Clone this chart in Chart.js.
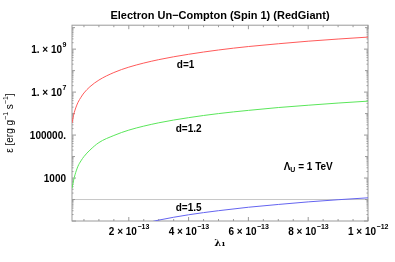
<!DOCTYPE html>
<html>
<head>
<meta charset="utf-8">
<script src="https://cdn.jsdelivr.net/npm/chart.js@4"></script>
<style>
  html, body { margin: 0; padding: 0; background: #fff; }
  #wrap { width: 395px; height: 262px; }
</style>
</head>
<body>
<div id="wrap"><canvas id="c" width="395" height="262"></canvas></div>
<script>
// ---- data (lambda_1 values, epsilon-dot values) ----
const lambdaRG = [1e-14, 1.5e-14, 2e-14, 3e-14, 4e-14, 5e-14, 7e-14, 1e-13, 1.5e-13, 2e-13, 3e-13, 4e-13, 5e-13, 6e-13, 7e-13, 8e-13, 9e-13, 1e-12];
const epsD1   = [3.63e5, 8.1e5, 1.45e6, 3.31e6, 5.75e6, 9.12e6, 1.78e7, 3.63e7, 8.13e7, 1.45e8, 3.24e8, 5.75e8, 9.12e8, 1.32e9, 1.78e9, 2.34e9, 2.95e9, 3.63e9];
const epsD12  = [331, 741, 1410, 3550, 6310, 1.0e4, 2.0e4, 4.47e4, 9.55e4, 1.7e5, 3.72e5, 6.46e5, 1.0e6, 1.41e6, 1.91e6, 2.45e6, 3.09e6, 3.8e6];
const lambdaB = [2.5e-13, 3e-13, 4e-13, 5e-13, 6e-13, 7e-13, 8e-13, 9e-13, 1e-12];
const epsD15  = [7.6, 11, 19.5, 30.2, 43.7, 58.9, 77.6, 97.7, 120];

const xTicks = [2e-13, 4e-13, 6e-13, 8e-13, 1e-12];
const xTickBase = ['2 × 10', '4 × 10', '6 × 10', '8 × 10', '1 × 10'];
const xTickExp  = ['−13', '−13', '−13', '−13', '−12'];
const yTicks = [1e3, 1e5, 1e7, 1e9];
const yTickBase = ['1000', '100000.', '1. × 10', '1. × 10'];
const yTickExp  = ['', '', '7', '9'];
const xMin = 1e-14, xMax = 1e-12;
const yMin = 10, yMax = 1.3e10;
const axisLineValue = 100;

const seriesLabels = ['d=1', 'd=1.2', 'd=1.5'];
const annotations = [
  { text: 'd=1',   x: 3.9e-13, y: 1.8e8 },
  { text: 'd=1.2', x: 4.0e-13, y: 1.9e5 },
  { text: 'd=1.5', x: 4.0e-13, y: 40 },
  { text: 'Λ', sub: 'U', rest: ' = 1 TeV', x: 8.0e-13, y: 3200 }
];

const toPts = (xs, ys) => xs.map((x, i) => ({ x: x, y: ys[i] }));
const FONT = '"Liberation Sans", Arial, sans-serif';

function drawSupLabel(ctx, base, exp, x, y, align) {
  ctx.font = 'bold 10px ' + FONT;
  const wb = ctx.measureText(base).width;
  ctx.font = 'bold 7px ' + FONT;
  const we = exp ? ctx.measureText(exp).width : 0;
  const w = wb + we;
  let x0 = align === 'right' ? x - w : (align === 'center' ? x - w / 2 : x);
  ctx.textAlign = 'left';
  ctx.textBaseline = 'middle';
  ctx.font = 'bold 10px ' + FONT;
  ctx.fillText(base, x0, y);
  if (exp) {
    ctx.font = 'bold 7px ' + FONT;
    ctx.fillText(exp, x0 + wb + 0.5, y - 5);
  }
}

const frameTicks = {
  id: 'frameTicks',
  beforeDatasetsDraw(chart) {
    const ctx = chart.ctx, a = chart.chartArea;
    const xs = chart.scales.x, ys = chart.scales.y;
    ctx.save();
    const yl = ys.getPixelForValue(axisLineValue);
    ctx.strokeStyle = '#c8c8c8';
    ctx.lineWidth = 1;
    ctx.beginPath(); ctx.moveTo(a.left, yl); ctx.lineTo(a.right, yl); ctx.stroke();
    ctx.strokeStyle = '#9a9a9a';
    ctx.strokeRect(a.left, a.top, a.right - a.left, a.bottom - a.top);
    for (let k = 1; k <= 20; k++) {
      const v = k * 0.5e-13;
      if (v < xMin || v > xMax) continue;
      const px = xs.getPixelForValue(v);
      const len = (k % 4 === 0) ? 4 : 2;
      ctx.beginPath();
      ctx.moveTo(px, a.bottom); ctx.lineTo(px, a.bottom - len);
      ctx.moveTo(px, a.top); ctx.lineTo(px, a.top + len);
      ctx.stroke();
    }
    for (let e = 1; e <= 10; e++) {
      for (let m = 1; m <= 9; m++) {
        const v = m * Math.pow(10, e);
        if (v < yMin || v > yMax) continue;
        const py = ys.getPixelForValue(v);
        const len = (m === 1 && e % 2 === 1) ? 4 : (m === 1 ? 3 : 1.5);
        ctx.beginPath();
        ctx.moveTo(a.left, py); ctx.lineTo(a.left + len, py);
        ctx.moveTo(a.right, py); ctx.lineTo(a.right - len, py);
        ctx.stroke();
      }
    }
    ctx.restore();
  },
  afterDatasetsDraw(chart) {
    const ctx = chart.ctx, a = chart.chartArea;
    const xs = chart.scales.x, ys = chart.scales.y;
    ctx.save();
    ctx.fillStyle = '#000';
    // tick labels
    xTicks.forEach((v, i) => drawSupLabel(ctx, xTickBase[i], xTickExp[i], xs.getPixelForValue(v), a.bottom + 11, 'center'));
    yTicks.forEach((v, i) => drawSupLabel(ctx, yTickBase[i], yTickExp[i], a.left - 6, ys.getPixelForValue(v) + 1, 'right'));
    // annotations
    ctx.textBaseline = 'middle';
    annotations.forEach(an => {
      const px = xs.getPixelForValue(an.x), py = ys.getPixelForValue(an.y);
      ctx.font = 'bold 10px ' + FONT;
      if (an.sub) {
        const w1 = ctx.measureText(an.text).width;
        ctx.font = 'bold 7px ' + FONT;
        const w2 = ctx.measureText(an.sub).width;
        ctx.font = 'bold 10px ' + FONT;
        const w3 = ctx.measureText(an.rest).width;
        const x0 = px - (w1 + w2 + w3) / 2;
        ctx.textAlign = 'left';
        ctx.fillText(an.text, x0, py);
        ctx.font = 'bold 7px ' + FONT;
        ctx.fillText(an.sub, x0 + w1, py + 3);
        ctx.font = 'bold 10px ' + FONT;
        ctx.fillText(an.rest, x0 + w1 + w2, py);
      } else {
        ctx.textAlign = 'center';
        ctx.fillText(an.text, px, py);
      }
    });
    // y axis title with superscripts, rotated
    ctx.save();
    ctx.translate(10, (a.top + a.bottom) / 2);
    ctx.rotate(-Math.PI / 2);
    const parts = [['ε', 0, 10], [' [erg g', 0, 10], ['−1', -4, 7], [' s', 0, 10], ['−1', -4, 7], [']', 0, 10]];
    let total = 0;
    parts.forEach(p => { ctx.font = p[2] + 'px ' + FONT; total += ctx.measureText(p[0]).width; });
    let cx = -total / 2;
    ctx.textAlign = 'left';
    ctx.textBaseline = 'middle';
    parts.forEach((p, idx) => {
      ctx.font = p[2] + 'px ' + FONT;
      ctx.fillText(p[0], cx, p[1]);
      if (idx === 0) {
        const w = ctx.measureText('ε').width;
        ctx.fillText('˙', cx + w / 2 - 1.5, -7);
      }
      cx += ctx.measureText(p[0]).width;
    });
    ctx.restore();
    ctx.restore();
  }
};

new Chart(document.getElementById('c'), {
  type: 'line',
  data: {
    datasets: [
      { label: seriesLabels[0], data: toPts(lambdaRG, epsD1),  borderColor: '#ff5a5a', borderWidth: 1, pointRadius: 0, cubicInterpolationMode: 'monotone' },
      { label: seriesLabels[1], data: toPts(lambdaRG, epsD12), borderColor: '#5ae65a', borderWidth: 1, pointRadius: 0, cubicInterpolationMode: 'monotone' },
      { label: seriesLabels[2], data: toPts(lambdaB, epsD15),  borderColor: '#6464f0', borderWidth: 1, pointRadius: 0, cubicInterpolationMode: 'monotone' }
    ]
  },
  options: {
    responsive: false,
    animation: false,
    devicePixelRatio: 1,
    layout: { padding: { left: 0, right: 27, top: 0, bottom: 0 } },
    plugins: {
      legend: { display: false },
      tooltip: { enabled: false },
      title: {
        display: true,
        fullSize: false,
        text: 'Electron Un−Compton (Spin 1) (RedGiant)',
        color: '#000',
        font: { family: FONT, size: 11, weight: 'bold' },
        padding: { top: 9, bottom: 3 }
      }
    },
    scales: {
      x: {
        type: 'linear',
        min: xMin, max: xMax,
        grid: { display: false, drawTicks: false },
        border: { display: false },
        afterBuildTicks: s => { s.ticks = xTicks.map(v => ({ value: v })); },
        afterFit: s => { s.height = 41; },
        ticks: { display: false },
        title: {
          display: true,
          text: 'λ₁',
          color: '#000',
          font: { family: '"DejaVu Serif", serif', size: 10, weight: 'bold' },
          padding: { top: 0, bottom: 13 }
        }
      },
      y: {
        type: 'logarithmic',
        min: yMin, max: yMax,
        grid: { display: false, drawTicks: false },
        border: { display: false },
        afterBuildTicks: s => { s.ticks = yTicks.map(v => ({ value: v })); },
        afterFit: s => { s.width = 72; },
        ticks: { display: false },
        title: { display: false }
      }
    }
  },
  plugins: [frameTicks]
});
</script>
</body>
</html>
